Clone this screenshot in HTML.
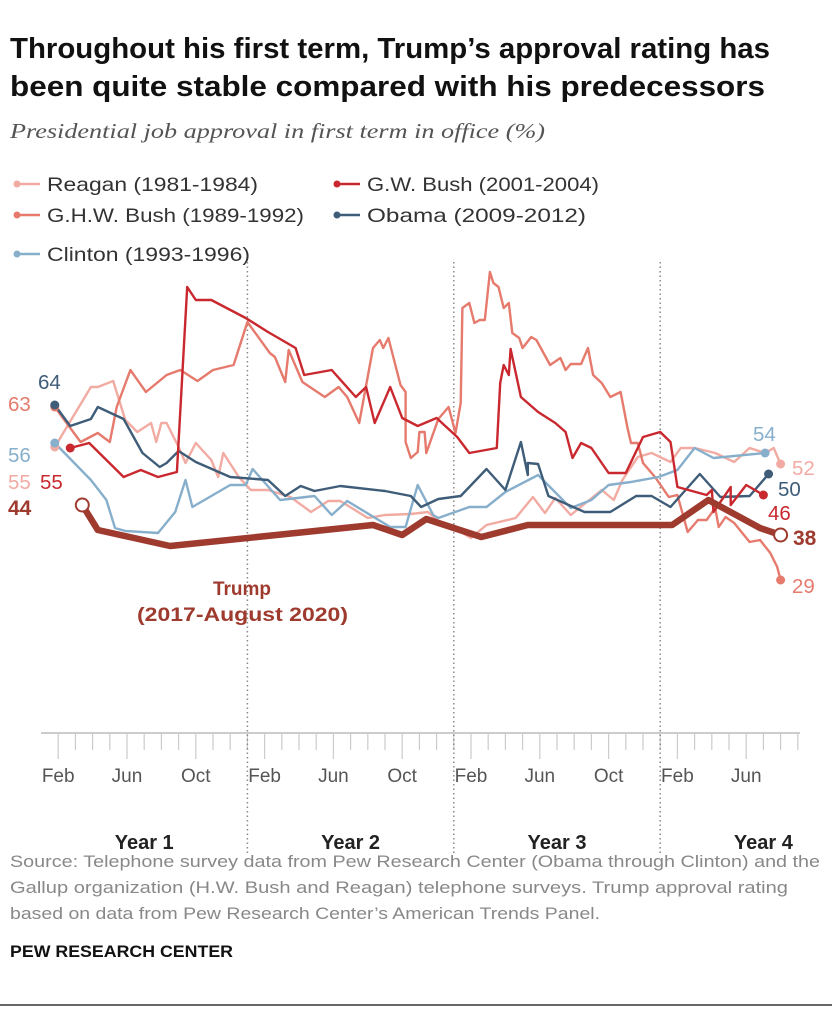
<!DOCTYPE html>
<html><head><meta charset="utf-8"><style>
body{margin:0;background:#fff;}
svg text{font-family:"Liberation Sans",sans-serif;}
</style></head><body>
<svg id="chart" width="832" height="1024" viewBox="0 0 832 1024" xmlns="http://www.w3.org/2000/svg">
<text x="10" y="58" font-size="29" font-weight="bold" fill="#111" textLength="760" lengthAdjust="spacingAndGlyphs">Throughout his first term, Trump’s approval rating has</text>
<text x="10" y="96" font-size="29" font-weight="bold" fill="#111" textLength="755" lengthAdjust="spacingAndGlyphs">been quite stable compared with his predecessors</text>
<text x="10" y="138" font-size="21" font-style="italic" fill="#555" textLength="535" lengthAdjust="spacingAndGlyphs" style="font-family:'Liberation Serif',serif">Presidential job approval in first term in office (%)</text>
<g id="legend"></g>
<g id="axis"></g>
<g id="lines"></g>
<g>
<text x="242" y="595" font-size="19" font-weight="bold" fill="#9e3a2e" text-anchor="middle">Trump</text>
<text x="137" y="621" font-size="19" font-weight="bold" fill="#9e3a2e" textLength="211" lengthAdjust="spacingAndGlyphs">(2017-August 2020)</text>
</g>
<g font-size="16.5" fill="#888">
<text x="10" y="867" textLength="810" lengthAdjust="spacingAndGlyphs">Source: Telephone survey data from Pew Research Center (Obama through Clinton) and the</text>
<text x="10" y="893" textLength="778" lengthAdjust="spacingAndGlyphs">Gallup organization (H.W. Bush and Reagan) telephone surveys. Trump approval rating</text>
<text x="10" y="919" textLength="590" lengthAdjust="spacingAndGlyphs">based on data from Pew Research Center’s American Trends Panel.</text>
</g>
<text x="10" y="957" font-size="16.5" font-weight="bold" fill="#111" textLength="223" lengthAdjust="spacingAndGlyphs">PEW RESEARCH CENTER</text>
<line x1="0" y1="1005" x2="832" y2="1005" stroke="#333" stroke-width="1.5"/>
</svg>
<script>
const NS="http://www.w3.org/2000/svg";
const reaganM=[0.8,2.9,3.3,4.2,4.9,5.6,6.4,6.7,7.0,7.3,8.0,8.4,9.0,9.9,10.3,10.6,11.5,12.2,13.2,14.5,15.7,16.7,17.4,19.0,20.0,21.5,22.5,23.5,24.2,25.0,25.9,27.6,28.6,29.3,29.9,30.8,31.3,32.6,33.3,33.8,34.7,35.5,36.6,37.2,38.0,39.2,40.3,41.2,42.1,42.6,43.0];
const reaganV=[55.6,67.6,67.6,68.8,61,58.6,60.4,56.6,60.4,60.4,55.6,52.4,56.4,53,49.6,54.4,49.6,47,47,45.6,42.6,44.8,44.8,41.4,42,42.2,42.6,39.6,39,37.4,40,41.4,45.6,42.4,45.4,42,43.4,47,45,49,53.6,54.4,52.6,55.4,55.4,54.4,52.6,55.4,54.4,55.4,52.2];
const ghwM=[0.8,2.3,3.3,4.0,4.4,5.2,6.1,7.3,8.1,9.1,10.0,11.2,12.0,13.3,13.6,14.2,14.4,15.2,16.5,17.3,17.8,18.5,19.3,19.7,19.9,20.2,20.9,21.2,21.2,21.5,21.9,22.0,22.3,22.4,23.1,23.7,24.1,24.4,24.5,24.9,25.2,25.5,25.8,26.1,26.3,26.6,26.9,27.2,27.4,27.8,28.0,28.5,28.8,29.6,30.2,30.5,30.8,31.4,31.8,32.1,32.6,33.1,33.7,34.1,34.3,34.7,35.0,35.7,36.5,37.0,37.6,38.2,38.7,39.2,39.4,39.8,40.3,41.2,41.8,42.4,42.8,43.0];
const ghwV=[63.6,56.6,58.4,56.6,63.6,71,66.6,70,71,68.8,71,72,80.6,74.4,73.6,68.6,75,68.6,65.6,67.6,65.6,60.4,75.4,77,75.4,77.4,68,66.6,56.6,53.4,54.6,58.6,58.6,54.4,61.2,63.6,58.4,64.4,83.4,84.4,80.4,81,81,90.6,88.4,87.6,83.4,84.4,78.4,77.4,75.4,77.6,77,72,73.4,71,72.2,72.2,75.4,70,68.4,65.6,66.6,59.4,56.4,56.4,52.4,49.6,45.6,46,38.6,41,41,43.4,39.6,41.6,40.4,36.6,37,34.4,31.6,29];
const clintonM=[0.8,2.9,3.8,4.3,4.9,6.8,7.8,8.4,8.8,11,11.9,12.3,13.9,15.9,16.9,17.8,20.3,21.2,21.9,22.8,23.1,24.9,25.9,27,28.9,30.8,32,33,34.3,35.9,37,38,39.1,42.1];
const clintonV=[56.4,49,45,39.4,38.8,38.4,42.6,49,43.6,48,48,51.2,45,45.8,42,44.8,39.6,39.6,48,42,41.4,43.6,43.6,46.6,50,43.4,45,48,48.6,49.6,51,55.4,53.4,54.4];
const gwbM=[1.7,2.8,4.8,5.8,6.8,7.9,8.5,9.0,9.9,11.9,13.2,14.8,15.3,16.9,18.3,18.9,19.4,20.3,21.0,21.9,23.0,24.2,24.9,26.5,26.7,26.9,27.2,27.3,27.9,28.9,29.9,30.5,30.9,31.4,32.0,33.0,34.0,35.0,36.0,36.6,37.0,38.7,39.0,39.1,40.1,40.1,41.0,42.0];
const gwbV=[55.4,56.4,49.6,51,49.6,50.6,87.6,85,85,81.4,78.6,75.4,70,71,65.6,67.6,60.4,67.6,61.4,59.8,61.4,57.6,54.4,55.4,68.4,72,70,75.2,65.6,62.6,60.4,58.6,53.4,56.4,55.4,50.4,50.4,57.6,58.6,56.6,47.6,46,47,42.6,47.6,44,48,46];
const obamaM=[0.8,1.7,2.9,3.3,4.8,5.9,6.9,7.3,8.0,9.0,11.0,13.2,14.2,15.1,15.9,17.4,20.0,21.5,22.1,23.1,24.4,25.9,27.0,27.9,28.3,28.3,28.9,29.5,31.6,33.1,34.6,35.5,36.6,38.3,39.5,41.2,42.3];
const obamaV=[64,59.8,61.2,63.6,61.2,54.4,51.6,52.4,54.8,52.6,49.6,49,45.8,47.8,46.8,47.8,46.8,45.8,43.6,45.2,45.8,51.2,47,56.6,50,52.4,52.2,45.8,42.6,42.6,45.8,45.8,43.6,50.2,45.6,45.8,50.2];
const trumpM=[2.4,3.3,7.5,19.3,21.0,22.4,25.6,28.3,36.7,38.8,41.8,43.0];
const trumpV=[44,39,35.8,40,38,41.2,37.6,40,40,45,39.4,38];
const monthLabels=["Feb","Jun","Oct","Feb","Jun","Oct","Feb","Jun","Oct","Feb","Jun"];
const monthLabelIdx=[1,5,9,13,17,21,25,29,33,37,41];
const yearLabels=["Year 1","Year 2","Year 3","Year 4"];

const xS=m=>41+m*17.2;
const yS=v=>580-(v-29)*5;
function el(t,a,p){const e=document.createElementNS(NS,t);for(const k in a)e.setAttribute(k,a[k]);p.appendChild(e);return e;}

const ax=document.getElementById('axis');
const base=el('line',{x1:41,y1:733,x2:800,y2:733,stroke:'#bbb','stroke-width':1.5},ax);


for(let m=1;m<=44;m++){
  const major=(m-1)%4===0;
  const t=el('line',{x1:xS(m),y1:733,x2:xS(m),y2:major?759:750,stroke:'#ccc','stroke-width':1.2},ax);
  
  
}
monthLabels.forEach((l,i)=>{
  const t=el('text',{x:xS(monthLabelIdx[i]),y:782,'font-size':19,fill:'#555','text-anchor':'middle'},ax);
  t.textContent=l;
  
  
});
[12,24,36].forEach(m=>{
  const d=el('line',{x1:xS(m),y1:262,x2:xS(m),y2:855,stroke:'#888','stroke-width':1.5,'stroke-dasharray':'1.5 3'},ax);
  
  
});
yearLabels.forEach((l,i)=>{
  const t=el('text',{x:xS(i*12+6),y:849,'font-size':20,'font-weight':'bold',fill:'#222','text-anchor':'middle'},ax);
  t.textContent=l;
  
  
});

const lg=document.getElementById('lines');
function series(M,V,color,w,name){
  const d=M.map((m,i)=>(i?'L':'M')+xS(m).toFixed(1)+','+yS(V[i]).toFixed(1)).join('');
  const p=el('path',{d:d,fill:'none',stroke:color,'stroke-width':w,'stroke-linejoin':'round','stroke-linecap':'round'},lg);
  
  
}
function dot(m,v,color,name){
  const c=el('circle',{cx:xS(m),cy:yS(v),r:4.5,fill:color},lg);
  
  
}
function lbl(x,y,txt,color,name,bold){
  const t=el('text',{x:x,y:y,'font-size':bold?21:20.5,fill:color,'font-weight':bold?'bold':'normal'},lg);
  t.textContent=txt;
  
  
}
const C={reagan:'#f2aba3',ghw:'#e57a6d',clinton:'#87afcb',gwb:'#c9282f',obama:'#3f5d78',trump:'#9e3a2e'};
series(reaganM,reaganV,C.reagan,2.4,'reagan-line');
series(ghwM,ghwV,C.ghw,2.4,'ghw-bush-line');
series(clintonM,clintonV,C.clinton,2.4,'clinton-line');
series(obamaM,obamaV,C.obama,2.4,'obama-line');
series(gwbM,gwbV,C.gwb,2.4,'gw-bush-line');
series(trumpM,trumpV,C.trump,6.5,'trump-line');
dot(reaganM[0],reaganV[0],C.reagan,'reagan-start');dot(reaganM.at(-1),reaganV.at(-1),C.reagan,'reagan-end');
dot(ghwM[0],ghwV[0],C.ghw,'ghw-start');dot(ghwM.at(-1),ghwV.at(-1),C.ghw,'ghw-end');
dot(clintonM[0],clintonV[0],C.clinton,'clinton-start');dot(clintonM.at(-1),clintonV.at(-1),C.clinton,'clinton-end');
dot(obamaM[0],obamaV[0],C.obama,'obama-start');dot(obamaM.at(-1),obamaV.at(-1),C.obama,'obama-end');
dot(gwbM[0],gwbV[0],C.gwb,'gwb-start');dot(gwbM.at(-1),gwbV.at(-1),C.gwb,'gwb-end');
[0,trumpM.length-1].forEach(i=>{
  const c=el('circle',{cx:xS(trumpM[i]),cy:yS(trumpV[i]),r:6.5,fill:'#fff',stroke:C.trump,'stroke-width':2},lg);
  
  
});
lbl(38,389,'64',C.obama,'obama-start-label');
lbl(8,411,'63',C.ghw,'ghw-start-label');
lbl(8,462,'56',C.clinton,'clinton-start-label');
lbl(8,489,'55',C.reagan,'reagan-start-label');
lbl(40,489,'55',C.gwb,'gwb-start-label');
lbl(8,515,'44',C.trump,'trump-start-label',true);
lbl(753,441,'54',C.clinton,'clinton-end-label');
lbl(792,475,'52',C.reagan,'reagan-end-label');
lbl(778,496,'50',C.obama,'obama-end-label');
lbl(768,520,'46',C.gwb,'gwb-end-label');
lbl(793,545,'38',C.trump,'trump-end-label',true);
lbl(792,593,'29',C.ghw,'ghw-end-label');

const leg=document.getElementById('legend');
const L=[['Reagan (1981-1984)',C.reagan,14,191,211],['G.H.W. Bush (1989-1992)',C.ghw,14,222,257],['Clinton (1993-1996)',C.clinton,14,261,203],['G.W. Bush (2001-2004)',C.gwb,334,191,232],['Obama (2009-2012)',C.obama,334,222,219]];
L.forEach(([t,c,x,y,w])=>{
  const g=el('g',{},leg);
  
  
  el('line',{x1:x,y1:y-7,x2:x+26,y2:y-7,stroke:c,'stroke-width':2.5},g);
  el('circle',{cx:x+3,cy:y-7,r:3.5,fill:c},g);
  const tx=el('text',{x:x+33,y:y,'font-size':19.5,fill:'#333',textLength:w,lengthAdjust:'spacingAndGlyphs'},g);
  tx.textContent=t;
});
</script>
</body></html>
